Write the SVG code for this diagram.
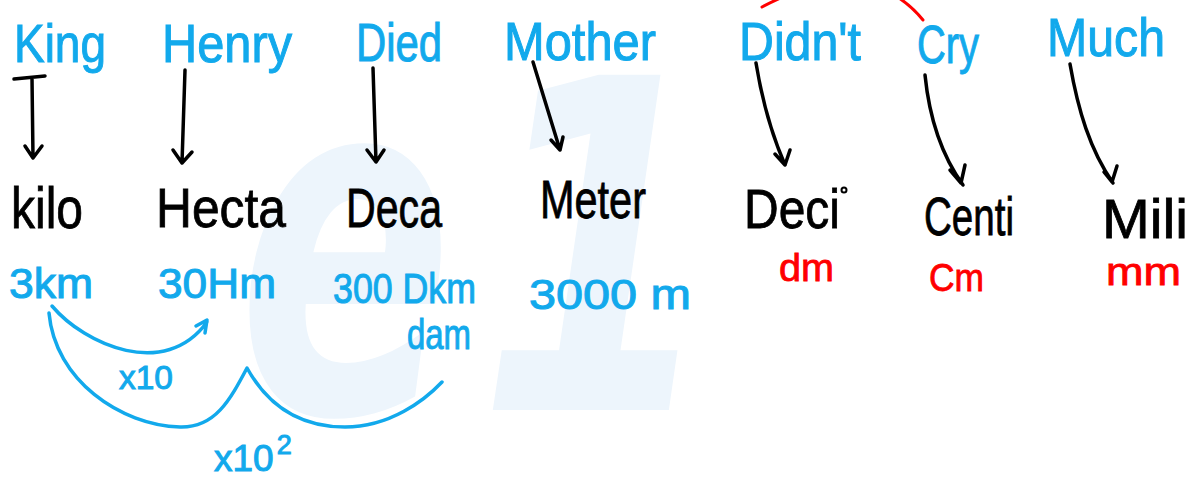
<svg xmlns="http://www.w3.org/2000/svg" width="1200" height="480" viewBox="0 0 1200 480">
<defs>
<style>
.bl{fill:#12a9ec;stroke:#12a9ec;stroke-width:1;font-family:"Liberation Sans",Arial,sans-serif}
.bk{fill:#000;stroke:#000;stroke-width:0.8;font-family:"Liberation Sans",Arial,sans-serif}
.rd{fill:#ff0000;stroke:#ff0000;stroke-width:0.8;font-family:"Liberation Sans",Arial,sans-serif}
.wm{fill:#edf5fc;font-family:"DejaVu Sans",sans-serif;font-weight:bold;font-style:italic}
.ak{fill:none;stroke:#000;stroke-width:3.5;stroke-linecap:round;stroke-linejoin:round}
.ab{fill:none;stroke:#12a9ec;stroke-width:3.5;stroke-linecap:round;stroke-linejoin:round}
.ar{fill:none;stroke:#ff0000;stroke-width:3;stroke-linecap:round}
</style>
</defs>
<rect width="1200" height="480" fill="#fff"/>
<g id="watermark">
<text class="wm" x="0" y="0" font-size="480" transform="translate(238,412) scale(0.66,1)">e</text>
<text class="wm" x="0" y="0" font-size="460" transform="translate(478,410) scale(0.75,1)">1</text>
</g>
<g id="mnemonic">
<text class="bl" x="14" y="62" font-size="54" textLength="92" lengthAdjust="spacingAndGlyphs">King</text>
<text class="bl" x="162" y="62" font-size="54" textLength="130" lengthAdjust="spacingAndGlyphs">Henry</text>
<text class="bl" x="356" y="61" font-size="54" textLength="86" lengthAdjust="spacingAndGlyphs">Died</text>
<text class="bl" x="504" y="60" font-size="54" textLength="152" lengthAdjust="spacingAndGlyphs">Mother</text>
<text class="bl" x="739" y="60" font-size="54" textLength="122" lengthAdjust="spacingAndGlyphs">Didn't</text>
<text class="bl" x="917" y="63" font-size="54" textLength="62" lengthAdjust="spacingAndGlyphs">Cry</text>
<text class="bl" x="1047" y="56" font-size="54" textLength="118" lengthAdjust="spacingAndGlyphs">Much</text>
</g>
<g id="prefixes">
<text class="bk" x="11" y="228" font-size="58" textLength="72" lengthAdjust="spacingAndGlyphs">kilo</text>
<text class="bk" x="156" y="227" font-size="56" textLength="130" lengthAdjust="spacingAndGlyphs">Hecta</text>
<text class="bk" x="346" y="227" font-size="56" textLength="96" lengthAdjust="spacingAndGlyphs">Deca</text>
<text class="bk" x="540" y="218" font-size="54" textLength="106" lengthAdjust="spacingAndGlyphs">Meter</text>
<text class="bk" x="744" y="228" font-size="56" textLength="96" lengthAdjust="spacingAndGlyphs">Deci</text>
<circle cx="844" cy="190" r="2.5" fill="none" stroke="#000" stroke-width="2"/>
<text class="bk" x="924" y="235" font-size="54" textLength="90" lengthAdjust="spacingAndGlyphs">Centi</text>
<text class="bk" x="1102" y="238" font-size="56" textLength="86" lengthAdjust="spacingAndGlyphs">Mili</text>
</g>
<g id="values">
<text class="bl" x="9" y="298" font-size="42" textLength="84" lengthAdjust="spacingAndGlyphs">3km</text>
<text class="bl" x="158" y="298" font-size="42" textLength="118" lengthAdjust="spacingAndGlyphs">30Hm</text>
<text class="bl" x="333" y="303" font-size="42" textLength="143" lengthAdjust="spacingAndGlyphs">300 Dkm</text>
<text class="bl" x="407" y="349" font-size="42" textLength="64" lengthAdjust="spacingAndGlyphs">dam</text>
<text class="bl" x="529" y="309" font-size="42" textLength="162" lengthAdjust="spacingAndGlyphs">3000 m</text>
<text class="rd" x="779" y="281" font-size="38" textLength="55" lengthAdjust="spacingAndGlyphs">dm</text>
<text class="rd" x="929" y="291" font-size="38" textLength="55" lengthAdjust="spacingAndGlyphs">Cm</text>
<text class="rd" x="1106" y="285" font-size="38" textLength="75" lengthAdjust="spacingAndGlyphs">mm</text>
<text class="bl" x="119" y="389" font-size="34" textLength="54" lengthAdjust="spacingAndGlyphs">x10</text>
<text class="bl" x="214" y="471" font-size="37">x10<tspan dx="3" dy="-17" font-size="27">2</tspan></text>
</g>
<g id="connectors">
<path class="ak" d="M14,79 L45,76 M32,78 L33,158 M25,146 L33,158 L42,146"/>
<path class="ak" d="M185,70 L182,163 M173,150 L182,163 L192,152"/>
<path class="ak" d="M373,68 L376,162 M367,150 L376,162 L384,150"/>
<path class="ak" d="M533,62 L560,150 M551,140 L560,150 L563,137"/>
<path class="ak" d="M756,63 C762,100 772,135 785,165 M775,154 L785,165 L790,150"/>
<path class="ak" d="M925,75 C930,125 945,160 963,185 M950,170 L961,183 L965,165"/>
<path class="ak" d="M1070,64 C1078,110 1090,150 1113,183 M1104,172 L1112,182 L1117,166"/>
<path class="ar" d="M762,7 C790,-8 870,-45 923,20"/>
<path class="ab" d="M52,306 C85,345 165,380 207,322 M196,326 L207,320 L205,333"/>
<path class="ab" d="M49,313 C55,380 120,425 180,427 C215,428 230,400 247,368 C262,395 290,427 345,427 C390,427 425,400 442,382"/>
</g>
</svg>
